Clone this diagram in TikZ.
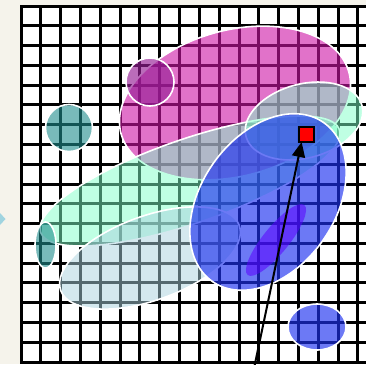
\documentclass[tikz,border=0pt]{standalone}
\usepackage{tikz}
\usepackage{xcolor}
\usetikzlibrary{arrows.meta, positioning}
\definecolor{cPaper}{RGB}{245,243,235}
\definecolor{cCue}{RGB}{160,212,224}
\definecolor{cMagenta}{RGB}{205,20,165}
\definecolor{cPlum}{RGB}{150,30,150}
\definecolor{cTeal}{RGB}{30,140,140}
\definecolor{cMint}{RGB}{128,255,200}
\definecolor{cPale}{RGB}{170,210,222}
\definecolor{cBlue}{RGB}{30,50,240}
\definecolor{cViolet}{RGB}{90,0,255}
\tikzset{
	gridline/.style={line width=3pt, black, line cap=rect},
	blob/.style={draw=white, line width=1.6pt, fill opacity=0.6},
	hitbox/.style={rectangle, draw=black, line width=2pt, fill=red, minimum size=15pt, inner sep=0pt, outer sep=0pt},
	pointer/.style={-{Triangle[length=15pt, width=13pt]}, line width=2pt},
}

\begin{document}
\begin{tikzpicture}[x=1pt, y=-1pt]
	\useasboundingbox (0,0) rectangle (366,364);
	% paper and sheet
	\fill[cPaper] (0,0) rectangle (366,364);
	\fill[white] (20,6) rectangle (366,363);
	\fill[cCue] (0,213) -- (5.5,219) -- (0,225) -- cycle;
	% grid
	\foreach \i in {0,...,17} \draw[gridline] ({21+19.82*\i},6) -- ({21+19.82*\i},362);
	\foreach \j in {0,...,18} \draw[gridline] (21,{6+19.78*\j}) -- (366,{6+19.78*\j});
	% blobs, back to front
	\draw[blob, fill=cMagenta, rotate around={15:(235,103)}] (235,103) ellipse (118 and 73);
	\draw[blob, fill=cPlum, fill opacity=0.65] (150,82) circle (24);
	\draw[blob, fill=cMint, fill opacity=0.5, rotate around={19:(190,181)}] (190,181) ellipse (158 and 42);
	\draw[blob, fill=cMint, fill opacity=0.5, rotate around={15:(304,121)}] (304,121) ellipse (60 and 37);
	\draw[blob, fill=cPale, fill opacity=0.5, rotate around={20:(150,258)}] (150,258) ellipse (95 and 42);
	\draw[blob, fill=cBlue, fill opacity=0.65, rotate around={55:(268,202)}] (268,202) ellipse (97 and 67);
	\draw[fill=cViolet, fill opacity=0.55, draw=none, rotate around={51:(276,240)}] (276,240) ellipse (45 and 13);
	\draw[blob, fill=cBlue, fill opacity=0.65] (317,327) ellipse (29 and 23);
	\draw[blob, fill=cTeal] (69,128) circle (23.5);
	\draw[blob, fill=cTeal] (45.5,245) ellipse (10.5 and 23);
	% target and pointer
	\node[hitbox] (goal) at (306.5,134.5) {};
	\coordinate (base) at (254.5,366);
	\draw[pointer] (base) -- (goal.-123);
\end{tikzpicture}
\end{document}
